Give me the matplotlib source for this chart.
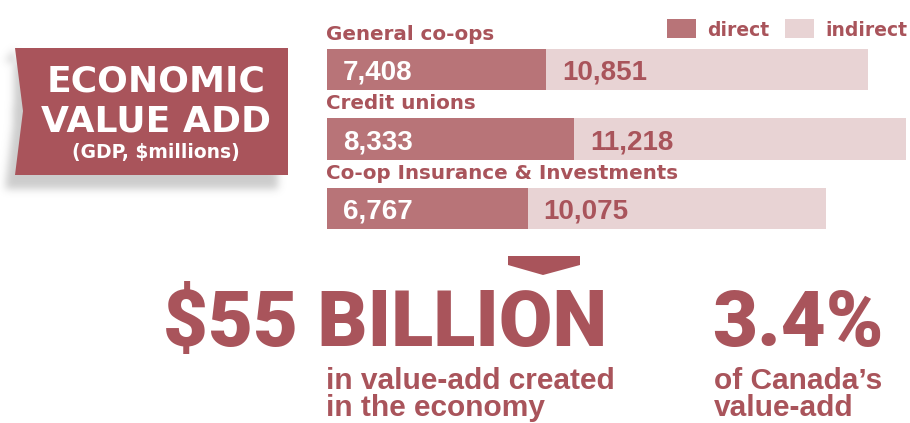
import numpy as np
import matplotlib
matplotlib.use("Agg")
import matplotlib.pyplot as plt
from matplotlib.patches import Polygon, Rectangle
from matplotlib.path import Path

# ---------------- data ----------------
categories = ["General co-ops", "Credit unions", "Co-op Insurance & Investments"]
direct = [7408, 8333, 6767]
indirect = [10851, 11218, 10075]
series_names = ["direct", "indirect"]
title_lines = ["ECONOMIC", "VALUE ADD", "(GDP, $millions)"]
headline_total = "$55 BILLION"
headline_total_note = ["in value-add created", "in the economy"]
headline_share = "3.4%"
headline_share_note = ["of Canada\u2019s", "value-add"]

# ---------------- style ----------------
RED = "#A9545B"
DIRECT_C = "#B87478"
INDIRECT_C = "#E8D3D4"
SANS = ["Liberation Sans", "DejaVu Sans"]
WIDE = ["DejaVu Sans"]
HEAVY = ["Roboto", "Liberation Sans", "DejaVu Sans"]

W, H = 910, 423
fig = plt.figure(figsize=(W / 100, H / 100), dpi=100)
bg = fig.add_axes([0, 0, 1, 1])
bg.set_xlim(0, W)
bg.set_ylim(H, 0)
bg.axis("off")

# ---------------- banner with soft shadow ----------------
banner = [(15, 48), (288, 48), (288, 175), (15, 175), (23, 111)]
dx, dy = -10, 14
shadow_path = Path([(x + dx, y + dy) for x, y in banner] + [banner[0]])
yy, xx = np.mgrid[0:H, 0:W] + 0.5
mask = shadow_path.contains_points(np.c_[xx.ravel(), yy.ravel()]).reshape(H, W).astype(float)
sig = 4.0
r = np.arange(-12, 13)
k = np.exp(-r ** 2 / (2 * sig ** 2))
k /= k.sum()
mask = np.apply_along_axis(lambda v: np.convolve(v, k, mode="same"), 1, mask)
mask = np.apply_along_axis(lambda v: np.convolve(v, k, mode="same"), 0, mask)
img = np.zeros((H, W, 4))
img[..., :3] = 0.56
img[..., 3] = mask * 0.45
bg.imshow(img, extent=(0, W, H, 0), interpolation="bilinear", zorder=1)
bg.add_patch(Polygon(banner, closed=True, facecolor=RED, edgecolor="none", zorder=2))

bg.text(156, 92, title_lines[0], color="white", fontsize=26, fontweight="bold",
        family=WIDE, ha="center", va="baseline", zorder=3)
bg.text(156, 131, title_lines[1], color="white", fontsize=26, fontweight="bold",
        family=WIDE, ha="center", va="baseline", zorder=3)
bg.text(156, 158, title_lines[2], color="white", fontsize=13.5, fontweight="bold",
        family=WIDE, ha="center", va="baseline", zorder=3)

# ---------------- stacked bars ----------------
px_per_unit = 541 / 18259.0
left_px, right_px = 327, 910
top_px, bot_px = 34.75, 243.25
ax = fig.add_axes([left_px / W, 1 - bot_px / H, (right_px - left_px) / W, (bot_px - top_px) / H])
ax.set_xlim(0, (right_px - left_px) / px_per_unit)
ax.set_ylim(len(categories) - 0.5, -0.5)
ax.axis("off")
ax.patch.set_alpha(0)

idx = np.arange(len(categories))
bh = 0.59
ax.barh(idx, direct, height=bh, color=DIRECT_C, label=series_names[0])
ax.barh(idx, indirect, left=direct, height=bh, color=INDIRECT_C, label=series_names[1])

for i, (cat, d, ind) in enumerate(zip(categories, direct, indirect)):
    ax.annotate(cat, xy=(0, i - bh / 2), xytext=(-1, 9), textcoords="offset pixels",
                ha="left", va="baseline", color=RED, fontsize=14.3, fontweight="bold",
                family=WIDE)
    ax.annotate(f"{d:,}", xy=(0, i), xytext=(16, -10), textcoords="offset pixels",
                ha="left", va="baseline", color="white", fontsize=20, fontweight="bold",
                family=SANS)
    ax.annotate(f"{ind:,}", xy=(d, i), xytext=(16, -10), textcoords="offset pixels",
                ha="left", va="baseline", color=RED, fontsize=20, fontweight="bold",
                family=SANS)

# ---------------- legend ----------------
for x0, name, col in [(667, series_names[0], DIRECT_C), (785, series_names[1], INDIRECT_C)]:
    bg.add_patch(Rectangle((x0, 19), 29, 19, facecolor=col, edgecolor="none"))
    bg.text(x0 + 40, 36, name, color=RED, fontsize=13.5, fontweight="bold",
            family=WIDE, ha="left", va="baseline")

# ---------------- arrow ----------------
bg.add_patch(Polygon([(508, 256), (580, 256), (580, 265), (543, 275), (508, 265)],
                     closed=True, facecolor=RED, edgecolor="none"))

# ---------------- headlines ----------------
bg.text(163, 346, headline_total, color=RED, fontsize=56, fontweight="black",
        family=HEAVY, ha="left", va="baseline")
bg.text(712, 346, headline_share, color=RED, fontsize=56, fontweight="black",
        family=HEAVY, ha="left", va="baseline")
for j, line in enumerate(headline_total_note):
    bg.text(326, 389 + 27 * j, line, color=RED, fontsize=21.5, fontweight="bold",
            family=SANS, ha="left", va="baseline")
for j, line in enumerate(headline_share_note):
    bg.text(714, 389 + 27 * j, line, color=RED, fontsize=21.5, fontweight="bold",
            family=SANS, ha="left", va="baseline")

fig.savefig("out.png", dpi=100, facecolor="white")
